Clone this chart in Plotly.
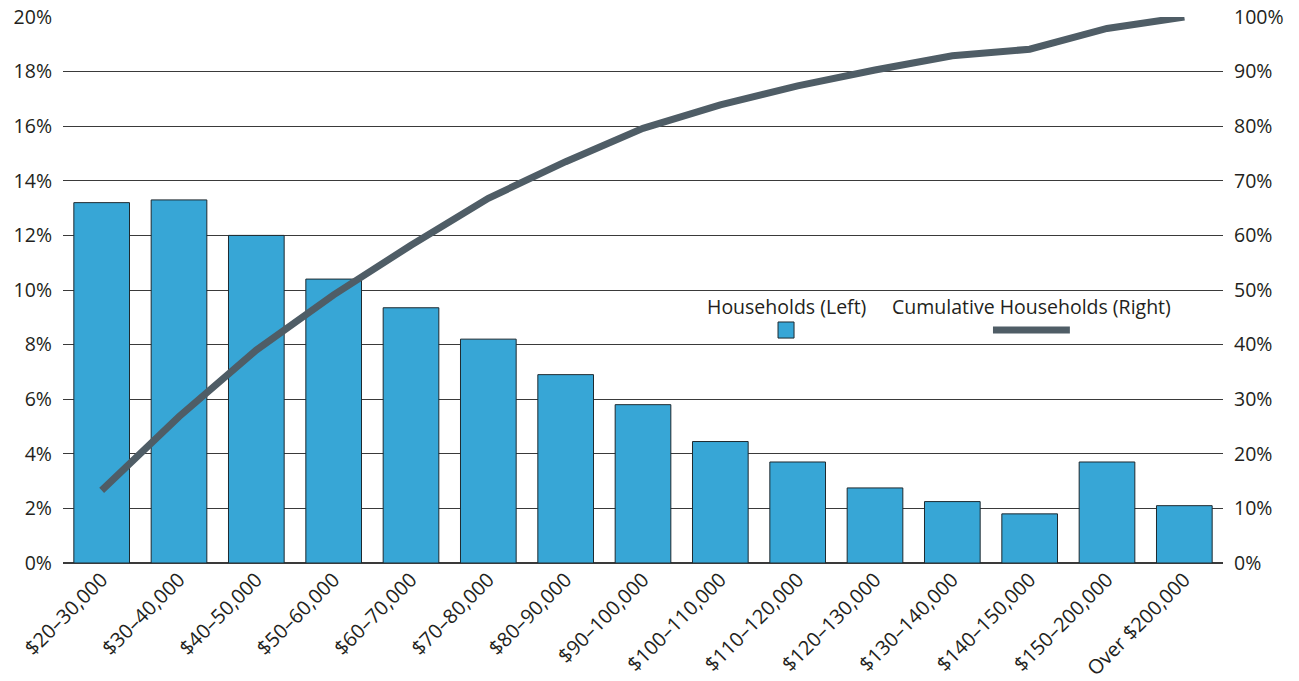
import plotly.graph_objects as go

categories = ["$20–30,000", "$30–40,000", "$40–50,000", "$50–60,000", "$60–70,000",
              "$70–80,000", "$80–90,000", "$90–100,000", "$100–110,000", "$110–120,000",
              "$120–130,000", "$130–140,000", "$140–150,000", "$150–200,000", "Over $200,000"]
households = [13.2, 13.3, 12.0, 10.4, 9.35, 8.2, 6.9, 5.8, 4.45, 3.7, 2.75, 2.25, 1.8, 3.7, 2.1]
cumulative = [13.3, 26.8, 39.0, 49.1, 58.2, 66.8, 73.5, 79.6, 83.9, 87.4, 90.3, 92.9, 94.1, 97.9, 100.0]
left_ticks = [0, 2, 4, 6, 8, 10, 12, 14, 16, 18, 20]
left_labels = ["0%", "2%", "4%", "6%", "8%", "10%", "12%", "14%", "16%", "18%", "20%"]
right_ticks = [0, 10, 20, 30, 40, 50, 60, 70, 80, 90, 100]
right_labels = ["0%", "10%", "20%", "30%", "40%", "50%", "60%", "70%", "80%", "90%", "100%"]

BAR = "#37A6D6"
LINE = "#4F5D66"
TXT = "#231F20"
FONT = "Open Sans"
FS = 19.5

fig = go.Figure()
fig.add_trace(go.Bar(x=categories, y=households, name="Households (Left)",
                     marker=dict(color=BAR, line=dict(color="#1E2A30", width=1)),
                     yaxis="y"))
fig.add_trace(go.Scatter(x=categories, y=cumulative, name="Cumulative Households (Right)",
                         mode="lines", line=dict(color=LINE, width=7), yaxis="y2"))

fig.update_layout(
    width=1299, height=681,
    margin=dict(l=63, r=76, t=17, b=118, autoexpand=False),
    paper_bgcolor="white", plot_bgcolor="white",
    showlegend=False,
    bargap=0.28,
    font=dict(family=FONT, size=FS, color=TXT),
    xaxis=dict(tickangle=-45, showgrid=False, ticks="", showline=False,
               tickfont=dict(family=FONT, size=20, color=TXT)),
    yaxis=dict(range=[0, 20], tickvals=left_ticks, ticktext=left_labels, showgrid=True,
               gridcolor="#3a3a3a", gridwidth=1, zeroline=True, zerolinecolor="#3a3a3a",
               zerolinewidth=1.5, ticks="", showline=False, ticklabelstandoff=10,
               tickfont=dict(family=FONT, size=FS, color=TXT)),
    yaxis2=dict(range=[0, 100], tickvals=right_ticks, ticktext=right_labels, overlaying="y",
                side="right", showgrid=False, zeroline=False, ticks="", showline=False,
                ticklabelstandoff=10,
                tickfont=dict(family=FONT, size=FS, color=TXT)),
)

# custom legend
fig.add_annotation(x=0.6233, y=0.469, xref="paper", yref="paper", text="Households (Left)",
                   showarrow=False, font=dict(family=FONT, size=FS, color=TXT),
                   xanchor="center", yanchor="middle")
fig.add_annotation(x=0.8345, y=0.469, xref="paper", yref="paper",
                   text="Cumulative Households (Right)",
                   showarrow=False, font=dict(family=FONT, size=FS, color=TXT),
                   xanchor="center", yanchor="middle")
fig.add_shape(type="rect", xref="paper", yref="paper",
              x0=0.6233 - 0.0069, x1=0.6233 + 0.0069, y0=0.4267 - 0.0147, y1=0.4267 + 0.0147,
              fillcolor=BAR, line=dict(color="#1E2A30", width=1))
fig.add_shape(type="line", xref="paper", yref="paper",
              x0=0.8017, x1=0.868, y0=0.4267, y1=0.4267,
              line=dict(color=LINE, width=7))

fig.write_html("out.html")
